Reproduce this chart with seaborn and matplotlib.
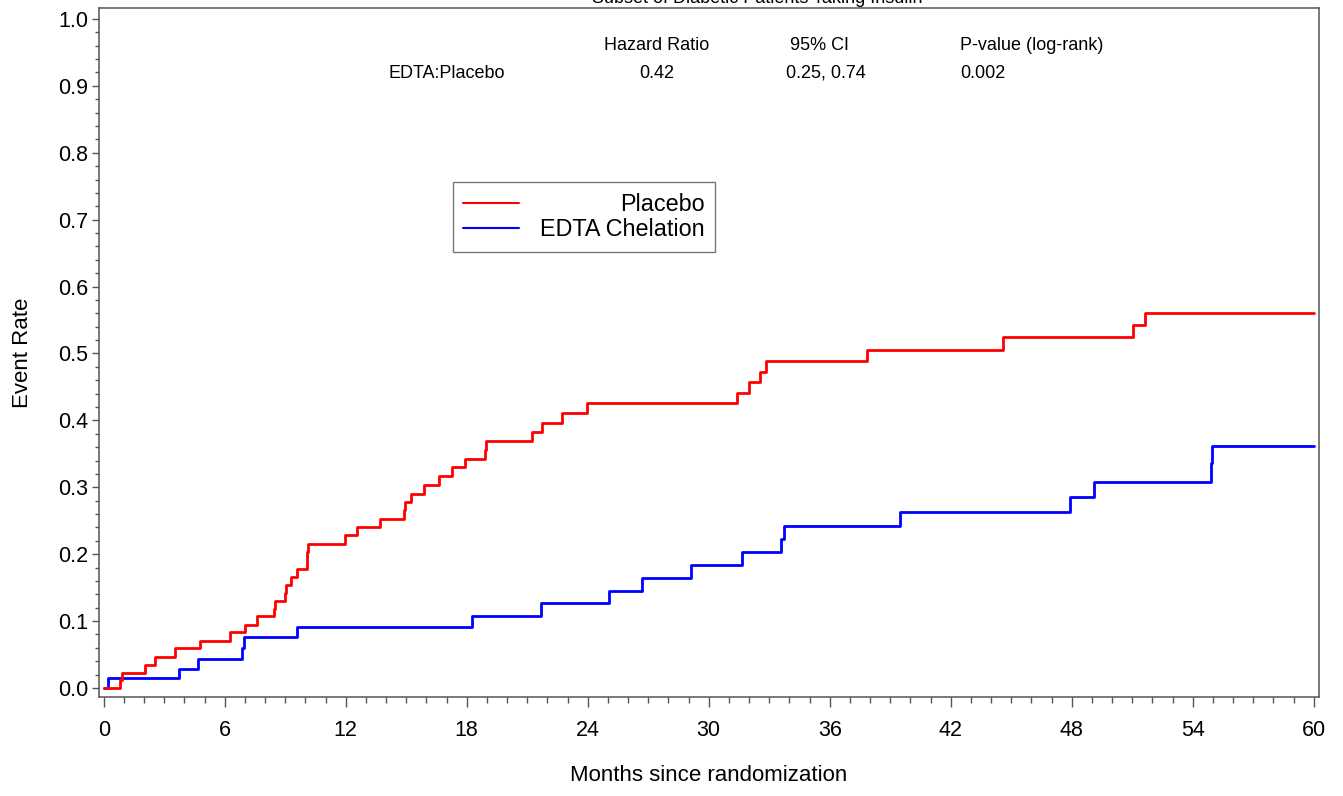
import numpy as np
import pandas as pd
import matplotlib
matplotlib.use("Agg")
import matplotlib.pyplot as plt
from matplotlib.ticker import MultipleLocator, FormatStrFormatter
import seaborn as sns

# curvas (meses, taxa de eventos acumulada)
placebo_t = [0, 0.82, 0.92, 2.06, 2.54, 3.54, 4.76, 6.28, 6.99, 7.60, 8.44, 8.49,
             8.97, 9.02, 9.29, 9.57, 10.06, 10.11, 11.96, 12.56, 13.70, 14.87, 14.92,
             15.22, 15.90, 16.61, 17.27, 17.91, 18.89, 18.95, 21.22, 21.71, 22.74,
             23.98, 31.41, 31.99, 32.55, 32.84, 37.83, 44.60, 51.02, 51.64, 60]
placebo_y = [0, 0.012, 0.023, 0.035, 0.047, 0.059, 0.070, 0.083, 0.094, 0.107, 0.118,
             0.130, 0.142, 0.154, 0.166, 0.178, 0.203, 0.215, 0.228, 0.240, 0.253,
             0.266, 0.278, 0.290, 0.303, 0.317, 0.330, 0.342, 0.355, 0.369, 0.383,
             0.396, 0.411, 0.426, 0.441, 0.457, 0.472, 0.488, 0.505, 0.524, 0.543,
             0.561, 0.561]

edta_t = [0, 0.23, 3.72, 4.66, 6.87, 6.97, 9.58, 18.26, 21.67, 25.07, 26.69, 29.10,
          31.65, 33.61, 33.71, 39.48, 47.91, 49.13, 54.91, 54.96, 60]
edta_y = [0, 0.015, 0.029, 0.044, 0.060, 0.076, 0.091, 0.108, 0.127, 0.145, 0.164,
          0.184, 0.203, 0.222, 0.242, 0.263, 0.285, 0.308, 0.336, 0.362, 0.362]

grupos = ["Placebo", "EDTA Chelation"]
cores = {"Placebo": "#FF0000", "EDTA Chelation": "#0000FF"}

cabecalho = ["Hazard Ratio", "95% CI", "P-value (log-rank)"]
linha_hr = ["EDTA:Placebo", "0.42", "0.25, 0.74", "0.002"]

titulo = "Subset of Diabetic Patients Taking Insulin"

df = pd.concat([
    pd.DataFrame({"meses": edta_t, "taxa": edta_y, "grupo": "EDTA Chelation"}),
    pd.DataFrame({"meses": placebo_t, "taxa": placebo_y, "grupo": "Placebo"}),
], ignore_index=True)

sns.set_style("ticks")
plt.rcParams["font.family"] = ["Liberation Sans", "DejaVu Sans"]
plt.rcParams["text.color"] = "black"
plt.rcParams["axes.labelcolor"] = "black"

fig = plt.figure(figsize=(13.43, 7.96), dpi=100)
ax = fig.add_axes([99 / 1343, 1 - 697 / 796, 1220 / 1343, 689 / 796])

# azul primeiro, vermelho por cima
sns.lineplot(data=df, x="meses", y="taxa", hue="grupo",
             hue_order=["EDTA Chelation", "Placebo"], palette=cores,
             estimator=None, sort=False, drawstyle="steps-post",
             linewidth=2.0, legend=False, ax=ax)

ax.set_xlim(-0.233, 60.263)
ax.set_ylim(-0.0135, 1.0164)

ax.xaxis.set_major_locator(MultipleLocator(6))
ax.xaxis.set_minor_locator(MultipleLocator(1))
ax.yaxis.set_major_locator(MultipleLocator(0.1))
ax.yaxis.set_minor_locator(MultipleLocator(0.02))
ax.yaxis.set_major_formatter(FormatStrFormatter("%.1f"))

for s in ax.spines.values():
    s.set_color("#555555")
    s.set_linewidth(1.1)

ax.tick_params(axis="x", which="major", length=7.5, width=1.0, color="#555555",
               labelsize=15.5, pad=9, labelcolor="black")
ax.tick_params(axis="x", which="minor", length=4.5, width=1.0, color="#555555")
ax.tick_params(axis="y", which="major", length=5, width=1.0, color="#555555",
               labelsize=15.5, pad=3, labelcolor="black")
ax.tick_params(axis="y", which="minor", length=3, width=1.0, color="#555555")

ax.set_xlabel("Months since randomization", fontsize=16)
ax.set_ylabel("Event Rate", fontsize=16)
ax.xaxis.set_label_coords(0.5, -0.098)
ax.yaxis.set_label_coords(-0.054, 0.5)

# tabela do hazard ratio
ax.text(27.43, 0.960, cabecalho[0], ha="center", va="center", fontsize=13)
ax.text(35.5, 0.960, cabecalho[1], ha="center", va="center", fontsize=13)
ax.text(46.03, 0.960, cabecalho[2], ha="center", va="center", fontsize=13)
ax.text(17.02, 0.919, linha_hr[0], ha="center", va="center", fontsize=13)
ax.text(27.43, 0.919, linha_hr[1], ha="center", va="center", fontsize=13)
ax.text(35.8, 0.919, linha_hr[2], ha="center", va="center", fontsize=13)
ax.text(42.45, 0.919, linha_hr[3], ha="left", va="center", fontsize=13)

# título cortado no topo, como na figura original
fig.text(757 / 1343, 1 - 3 / 796, titulo, ha="center", va="baseline", fontsize=13)

linhas = ax.get_lines()
leg = ax.legend([linhas[1], linhas[0]], grupos, loc="upper left",
                bbox_to_anchor=(0.290, 0.747), borderaxespad=0, frameon=True,
                fancybox=False, shadow=False, edgecolor="#555555", fontsize=16.8,
                handlelength=2.4, handletextpad=0.9, borderpad=0.45,
                labelspacing=0.1)
leg.get_frame().set_linewidth(1.0)
for h in leg.get_lines():
    h.set_linewidth(1.5)

# alinha os textos da legenda à direita
fig.canvas.draw()
r = fig.canvas.get_renderer()
larguras = [t.get_window_extent(r).width for t in leg.get_texts()]
dpicor = r.points_to_pixels(1.0)
coluna = leg._legend_handle_box.get_children()[0]
for item, w in zip(coluna.get_children(), larguras):
    item.sep = item.sep + (max(larguras) - w) / dpicor

fig.savefig("out.png", dpi=100)
